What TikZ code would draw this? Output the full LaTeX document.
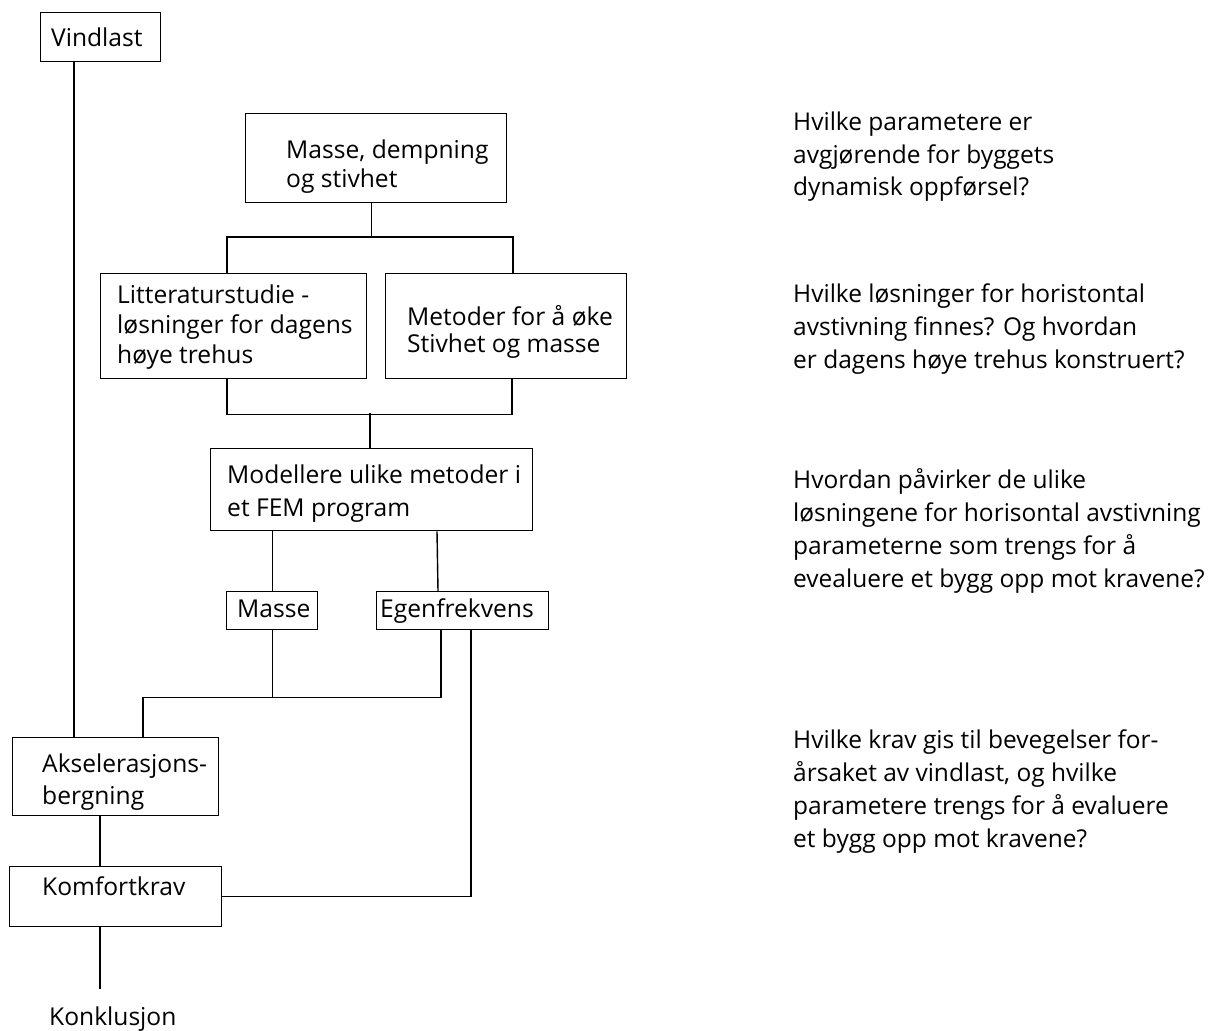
\documentclass[tikz,border=0pt]{standalone}
\usepackage{fontspec}
\setmainfont{Open Sans}
\begin{document}
\begin{tikzpicture}[x=1pt,y=-1pt,
  box/.style={draw, line width=1.4pt, inner sep=0pt, anchor=north west},
  conn/.style={line width=1.4pt},
  btxt/.style={anchor=base west, inner sep=0pt, font=\fontsize{24.6}{30}\selectfont},
  qtxt/.style={anchor=base west, inner sep=0pt, font=\fontsize{24.5}{33}\selectfont}]
\useasboundingbox (0,0) rectangle (1222,1030);
% boxes
\node[box, minimum width=120pt, minimum height=49pt] (vind) at (40,12) {};
\node[box, minimum width=261pt, minimum height=89pt] (mds) at (245,113) {};
\node[box, minimum width=266pt, minimum height=105pt] (lit) at (100,273) {};
\node[box, minimum width=241pt, minimum height=105pt] (met) at (385,273) {};
\node[box, minimum width=322pt, minimum height=82pt] (mod) at (210,448) {};
\node[box, minimum width=91pt, minimum height=38pt] (masse) at (226,591) {};
\node[box, minimum width=172pt, minimum height=38pt] (egen) at (376,591) {};
\node[box, minimum width=206pt, minimum height=78pt] (aks) at (12,737) {};
\node[box, minimum width=212pt, minimum height=60pt] (komf) at (9,866) {};
% box texts
\node[btxt] (tvind) at (51,47) {Vindlast};
\node[btxt] (tmds) at (286,158) {\baselineskip=29pt\vtop{\hbox{Masse, dempning}\hbox{og stivhet}}};
\node[btxt] (tlit) at (117,303) {\baselineskip=30pt\vtop{\hbox{Litteraturstudie -}\hbox{løsninger for dagens}\hbox{høye trehus}}};
\node[btxt] (tmet) at (407,325) {\baselineskip=27pt\vtop{\hbox{Metoder for å øke}\hbox{Stivhet og masse}}};
\node[btxt] (tmod) at (227,483) {\baselineskip=33pt\vtop{\hbox{Modellere ulike metoder i}\hbox{et FEM program}}};
\node[btxt] (tmasse) at (237,617) {Masse};
\node[btxt] (tegen) at (380,617) {Egenfrekvens};
\node[btxt] (taks) at (42,772) {\baselineskip=32pt\vtop{\hbox{Akselerasjons-}\hbox{bergning}}};
\node[btxt] (tkomf) at (42,895) {Komfortkrav};
\node[btxt] (tkonk) at (49,1025) {Konklusjon};
% questions
\node[qtxt] (q1) at (793,130) {\vtop{\hbox{Hvilke parametere er}\hbox{avgjørende for byggets}\hbox{dynamisk oppførsel?}}};
\node[qtxt] (q2) at (793,302) {\vtop{\hbox{Hvilke løsninger for horistontal}\hbox{avstivning finnes? Og hvordan}\hbox{er dagens høye trehus konstruert?}}};
\node[qtxt] (q3) at (793,488) {\vtop{\hbox{Hvordan påvirker de ulike}\hbox{løsningene for horisontal avstivning}\hbox{parameterne som trengs for å}\hbox{evealuere et bygg opp mot kravene?}}};
\node[qtxt] (q4) at (793,748) {\vtop{\hbox{Hvilke krav gis til bevegelser for-}\hbox{årsaket av vindlast, og hvilke}\hbox{parametere trengs for å evaluere}\hbox{et bygg opp mot kravene?}}};
% connectors
\draw[conn] ([xshift=34pt]vind.south west) -- ([xshift=34pt]vind.south west |- aks.north);
\draw[conn] ([xshift=-4.5pt]mds.south) -- ++(0,35) coordinate (b1);
\draw[conn] ([xshift=127pt]lit.north west) -- ++(0,-36) -| ([xshift=128pt]met.north west);
\draw[conn] ([xshift=127pt]lit.south west) -- ++(0,35) -| ([xshift=127pt]met.south west);
\draw[conn] ([xshift=160pt]mod.north west) -- ++(0,-35);
\draw[conn] (masse.north |- mod.south) -- (masse.north);
\draw[conn] ([xshift=61pt]egen.north west |- mod.south) -- ([xshift=62pt]egen.north west);
\draw[conn] (masse.south) -- ++(0,67);
\draw[conn] ([xshift=65pt]egen.south west) -- ++(0,67) -| ([xshift=131pt]aks.north west);
\draw[conn] ([xshift=95pt]egen.south west) |- (komf.east);
\draw[conn] ([xshift=88pt]aks.south west) -- ([xshift=88pt]aks.south west |- komf.north);
\draw[conn] ([xshift=91pt]komf.south west) -- ++(0,62) coordinate (kend);
\end{tikzpicture}
\end{document}
